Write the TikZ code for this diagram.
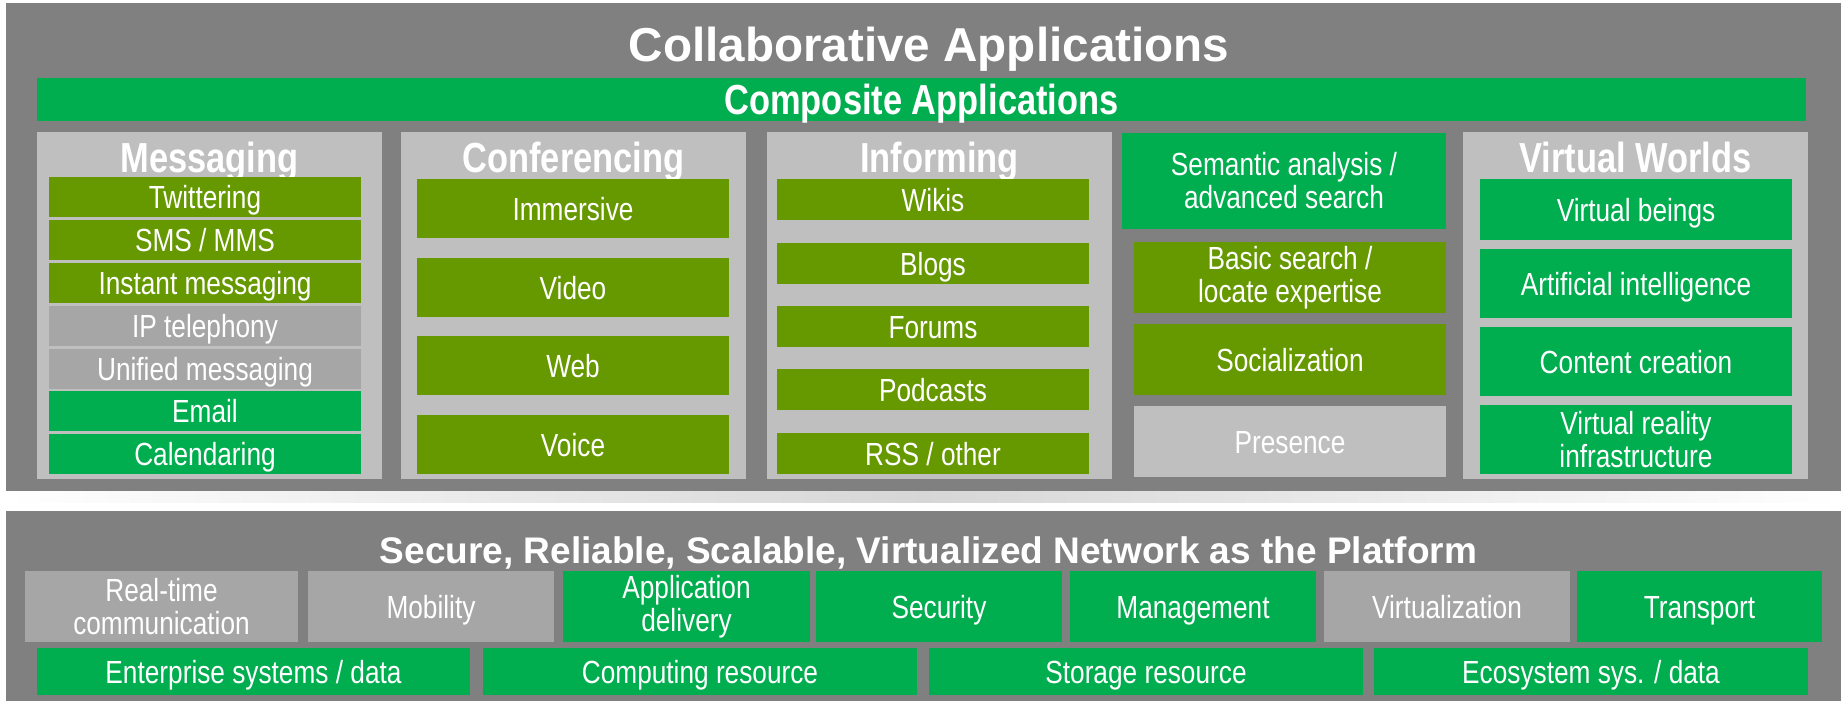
\documentclass[tikz,border=0pt]{standalone}
\usepackage{fontspec}
\setmainfont{Liberation Sans}
\newfontfamily\narrowfont[FakeStretch=0.82]{Liberation Sans}
\definecolor{panelgray}{RGB}{128,128,128}
\definecolor{colgray}{RGB}{191,191,191}
\definecolor{midgray}{RGB}{166,166,166}
\definecolor{appgreen}{RGB}{0,173,79}
\definecolor{olivegreen}{RGB}{102,153,0}

\begin{document}
\begin{tikzpicture}[x=1pt,y=-1pt,
	cell/.style={inner sep=0pt,outer sep=0pt,text=white,font=\narrowfont\fontsize{32}{33}\selectfont},
	itembox/.style={cell,text height=23pt,text depth=0pt},
	twolinebox/.style={cell,align=center},
	head/.style={inner sep=0pt,text=white,font=\narrowfont\bfseries\fontsize{42}{44}\selectfont},
	maintitle/.style={inner sep=0pt,text=white,font=\bfseries\fontsize{47.6}{50}\selectfont},
	subtitle/.style={inner sep=0pt,text=white,font=\bfseries\fontsize{37}{40}\selectfont}
	]
	
	\useasboundingbox (0,0) rectangle (1841,701);
	
	\fill[panelgray] (6,3) rectangle (1841,491);
	\fill[panelgray] (6,511) rectangle (1841,701);
	\shade[left color=white,right color=white,middle color=black!16] (6,491) rectangle (1841,502);
	
	\node[maintitle,anchor=base] (collab) at (929,62) {Collaborative Applications};
	\node[head,fill=appgreen,minimum width=1769pt,minimum height=43pt,text height=30pt,text depth=0pt] (composite) at (921.5,99.5) {Composite Applications};
	
	\foreach \xa/\xb in {37/382,401/746,767/1112,1463/1808}
		\fill[colgray] (\xa,132) rectangle (\xb,479);
	
	\foreach \nm/\cx/\txt in {msg/209.5/Messaging,conf/573.5/Conferencing,inform/939.5/Informing,virt/1635.5/Virtual Worlds}
		\node[head,anchor=base] (\nm) at (\cx,172) {\txt};
	
	\foreach \nm/\ya/\yb/\col/\txt in {twit/177/217/olivegreen/Twittering,
		sms/220/260/olivegreen/{SMS / MMS},
		im/263/303/olivegreen/Instant messaging,
		ipt/306/346/midgray/IP telephony,
		um/349/389/midgray/Unified messaging,
		email/391/431/appgreen/Email,
		cal/434/474/appgreen/Calendaring}
		\node[itembox,fill=\col,minimum width=312pt,minimum height={(\yb-\ya)*1pt}] (\nm) at (205,{(\ya+\yb)/2}) {\txt};
	
	\foreach \nm/\ya/\yb/\txt in {immersive/179/238/Immersive,video/258/317/Video,web/336/395/Web,voice/415/474/Voice}
		\node[itembox,fill=olivegreen,minimum width=312pt,minimum height={(\yb-\ya)*1pt}] (\nm) at (573,{(\ya+\yb)/2}) {\txt};
	
	\foreach \nm/\ya/\yb/\txt in {wikis/179/220/Wikis,blogs/243/284/Blogs,forums/306/347/Forums,podcasts/369/410/Podcasts,rss/433/474/{RSS / other}}
		\node[itembox,fill=olivegreen,minimum width=312pt,minimum height={(\yb-\ya)*1pt}] (\nm) at (933,{(\ya+\yb)/2}) {\txt};
	
	\node[twolinebox,fill=appgreen,minimum width=324pt,minimum height=96pt] (semantic) at (1284,181) {Semantic analysis /\\advanced search};
	\node[twolinebox,fill=olivegreen,minimum width=312pt,minimum height=71pt] (basic) at (1290,277.5) {Basic search /\\locate expertise};
	\node[itembox,fill=olivegreen,minimum width=312pt,minimum height=71pt] (social) at (1290,359.5) {Socialization};
	\node[itembox,fill=colgray,minimum width=312pt,minimum height=71pt] (presence) at (1290,441.5) {Presence};
	
	\foreach \nm/\ya/\yb/\txt in {beings/179/240/Virtual beings,ai/249/318/Artificial intelligence,content/327/396/Content creation}
		\node[itembox,fill=appgreen,minimum width=312pt,minimum height={(\yb-\ya)*1pt}] (\nm) at (1636,{(\ya+\yb)/2}) {\txt};
	\node[twolinebox,fill=appgreen,minimum width=312pt,minimum height=69pt] (vr) at (1636,439.5) {Virtual reality\\infrastructure};
	
	\node[subtitle,anchor=base] (platform) at (928.5,563) {Secure, Reliable, Scalable, Virtualized Network as the Platform};
	
	\node[twolinebox,fill=midgray,minimum width=273pt,minimum height=71pt] (rtc) at (161.5,606.5) {Real-time\\communication};
	\node[twolinebox,fill=appgreen,minimum width=247pt,minimum height=71pt] (appdel) at (686.5,606.5) {Application\\delivery};
	\foreach \nm/\xa/\xb/\col/\txt in {mob/308/554/midgray/Mobility,
		sec/816/1062/appgreen/Security,
		mgmt/1070/1316/appgreen/Management,
		virtz/1324/1570/midgray/Virtualization,
		trans/1577/1822/appgreen/Transport}
		\node[itembox,fill=\col,minimum width={(\xb-\xa)*1pt},minimum height=71pt] (\nm) at ({(\xa+\xb)/2},606.5) {\txt};
	
	\foreach \nm/\xa/\xb/\txt in {ent/37/470/{Enterprise systems / data},
		comp/483/917/Computing resource,
		stor/929/1363/Storage resource,
		eco/1374/1808/{Ecosystem sys. / data}}
		\node[itembox,fill=appgreen,minimum width={(\xb-\xa)*1pt},minimum height=47pt] (\nm) at ({(\xa+\xb)/2},671.5) {\txt};
	
\end{tikzpicture}
\end{document}
